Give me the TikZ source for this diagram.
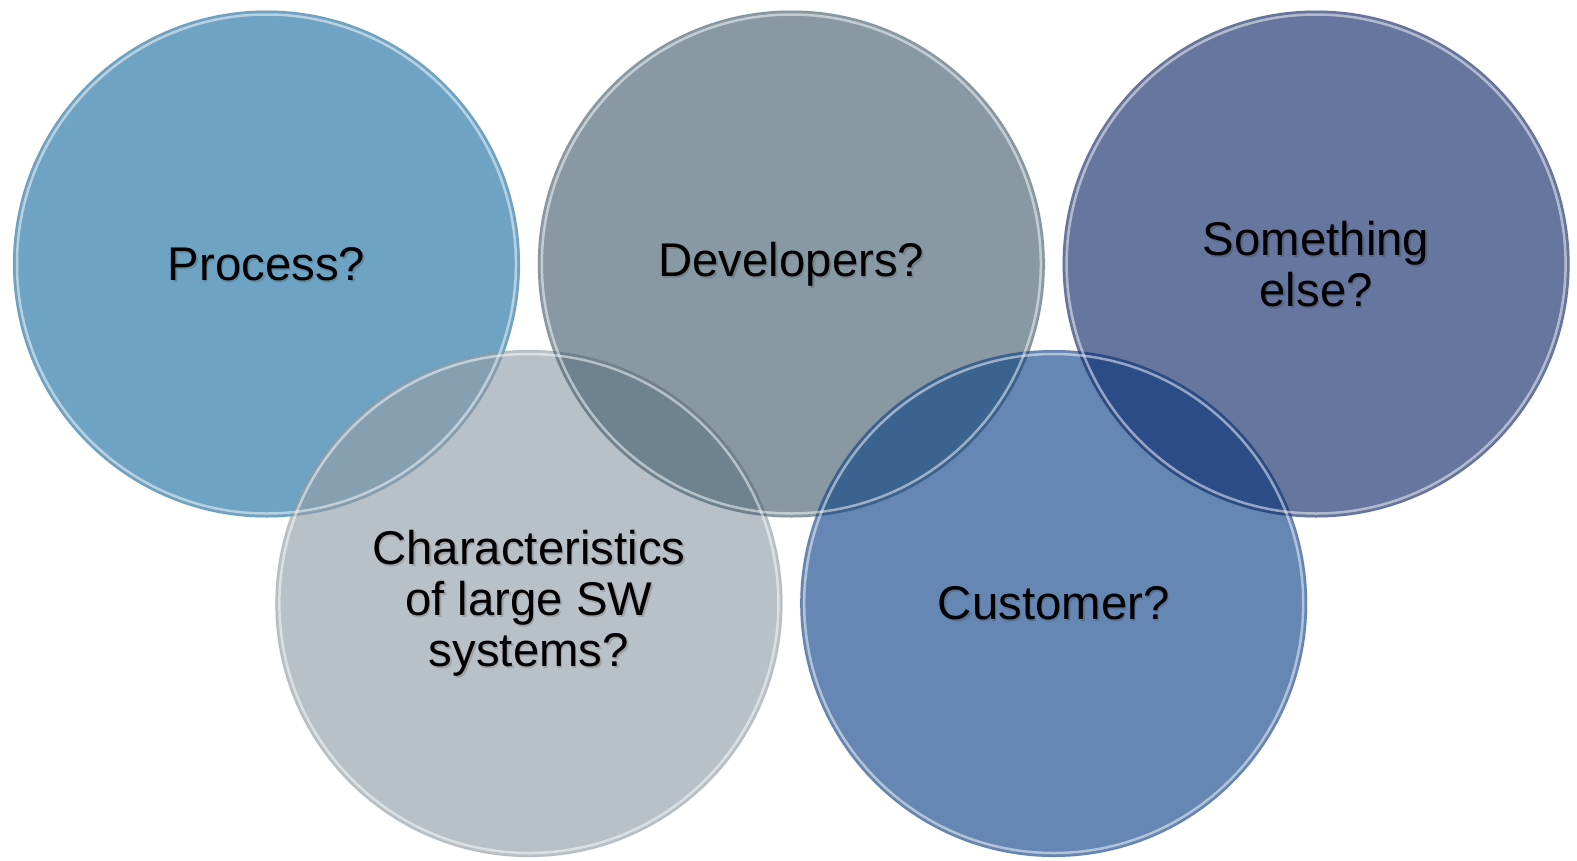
\documentclass[tikz,border=0pt]{standalone}
\usepackage{fontspec}
\setmainfont{Liberation Sans}
\usepackage{tikz}
\usetikzlibrary{positioning, backgrounds}
\definecolor{procblue}{HTML}{6FA3C4}
\definecolor{devgray}{HTML}{8899A4}
\definecolor{elseblue}{HTML}{66769E}
\definecolor{charsgray}{HTML}{B8C1C7}
\definecolor{custblue}{HTML}{6687B3}
\definecolor{mixprocchars}{HTML}{86A0B2}
\definecolor{mixdevchars}{HTML}{6E8290}
\definecolor{mixdevcust}{HTML}{3A6390}
\definecolor{mixelsecust}{HTML}{2C4C87}
\newcommand{\rad}{253.5bp}

\begin{document}
\begin{tikzpicture}[
  node distance=524.8bp, on grid,
  bubble/.style={circle, minimum size=507bp, inner sep=0pt, align=center, font=\fontsize{47.5}{51}\selectfont},
  rim/.style={draw=white, draw opacity=0.5, line width=2.5bp},
  edge/.style={draw=black, draw opacity=0.05, line width=1bp},
  txtshadow/.style={bubble, text=black, text opacity=0.15},
]
\useasboundingbox (0,0) rectangle (1577bp,-861bp);

% top row
\node[bubble] (process) at (266.5bp,-264bp) {Process?};
\node[bubble, right=of process] (developers) {Developers?};
\node[bubble, right=of developers] (other) {Something\\else?};
% bottom row, shifted half a step
\node[bubble, below right=339.5bp and 262.4bp of process] (chars) {Characteristics\\of large SW\\systems?};
\node[bubble, right=of chars] (customer) {Customer?};

\begin{scope}[on background layer]
  \fill[procblue] (process) circle (\rad);
  \fill[devgray] (developers) circle (\rad);
  \fill[elseblue] (other) circle (\rad);
  \fill[charsgray] (chars) circle (\rad);
  \fill[custblue] (customer) circle (\rad);
  % overlaps
  \begin{scope}
    \clip (chars) circle (\rad);
    \fill[mixprocchars] (process) circle (\rad);
    \fill[mixdevchars] (developers) circle (\rad);
  \end{scope}
  \begin{scope}
    \clip (customer) circle (\rad);
    \fill[mixdevcust] (developers) circle (\rad);
    \fill[mixelsecust] (other) circle (\rad);
  \end{scope}
  % soft text shadows
  \foreach \n/\t in {process/{Process?}, developers/{Developers?}, other/{Something\\else?},
                     chars/{Characteristics\\of large SW\\systems?}, customer/{Customer?}}
    \node[txtshadow] (\n-sh) at ([shift={(1.5bp,-2bp)}]\n.center) {\t};
\end{scope}

% glassy rims
\foreach \n in {process, developers, other, chars, customer} {
  \draw[edge] (\n) circle (\rad);
  \draw[rim] (\n) circle ({\rad-4bp});
}

\end{tikzpicture}
\end{document}
